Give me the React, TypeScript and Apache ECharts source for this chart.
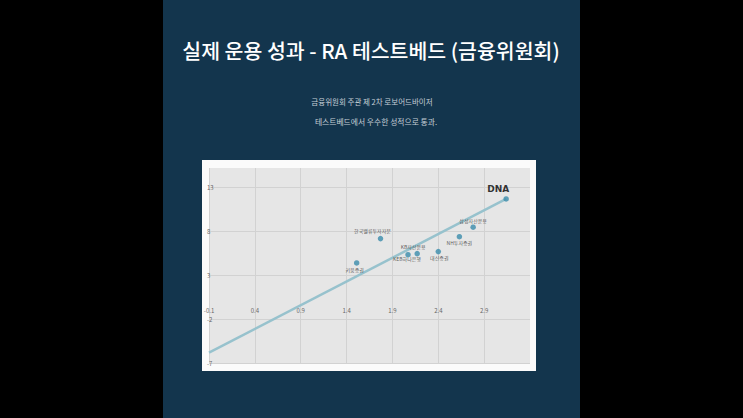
import React, { useEffect, useRef } from "react";
import * as echarts from "echarts";

const xTicks = [-0.1, 0.4, 0.9, 1.4, 1.9, 2.4, 2.9];
const yTicks = [-7, -2, 3, 8, 13];
const firms = ["키움증권", "한국밸류투자자문", "KEB하나은행", "KB자산운용", "대신증권", "NH투자증권", "삼성자산운용", "DNA"];
const xVals = [1.51, 1.77, 2.07, 2.17, 2.4, 2.63, 2.78, 3.14];
const yVals = [4.39, 7.16, 5.33, 5.45, 5.68, 7.38, 8.46, 11.68];
const trendX = [-0.1, 3.14];
const trendY = [-5.83, 11.68];

const titleText = "실제 운용 성과 - RA 테스트베드 (금융위원회)";
const subLines = ["금융위원회 주관 제 2차 로보어드바이저", "테스트베드에서 우수한 성적으로 통과."];

const FONT = "'Noto Sans CJK KR', 'Noto Sans', sans-serif";

const labelPlace: Record<string, any> = {
  "키움증권": { position: "bottom", distance: 1, offset: [-2, 0] },
  "한국밸류투자자문": { position: "top", distance: 3, offset: [-8, 0] },
  "KEB하나은행": { position: "bottom", distance: 0, offset: [-1, -1] },
  "KB자산운용": { position: "top", distance: 2, offset: [-4, 0] },
  "대신증권": { position: "bottom", distance: 1, offset: [1, 0] },
  "NH투자증권": { position: "bottom", distance: 1, offset: [0, 0] },
  "삼성자산운용": { position: "top", distance: 1, offset: [0, 0] },
  DNA: { position: "top", distance: 3, offset: [-8, 0] },
};

export default function App() {
  const ref = useRef<HTMLDivElement>(null);
  useEffect(() => {
    if (!ref.current) return;
    const chart = echarts.init(ref.current, undefined, { renderer: "svg" });
    const points = firms.map((name, i) => {
      const lp = labelPlace[name];
      const isDNA = name === "DNA";
      return {
        name,
        value: [xVals[i], yVals[i]],
        label: {
          show: true,
          formatter: name,
          position: lp.position,
          distance: lp.distance,
          offset: lp.offset,
          fontSize: isDNA ? 9 : 5,
          fontWeight: isDNA ? "bold" : "normal",
          color: isDNA ? "#000" : "#333",
          fontFamily: isDNA ? "'DejaVu Sans', sans-serif" : FONT,
        },
      };
    });
    chart.setOption({
      animation: false,
      backgroundColor: "#000",
      textStyle: { fontFamily: FONT },
      graphic: [
        { type: "rect", z: -10, shape: { x: 163, y: 0, width: 417, height: 418 }, style: { fill: "#13354d" } },
        { type: "rect", z: -9, shape: { x: 202, y: 160, width: 334, height: 211 }, style: { fill: "#fbfbfb" } },
        {
          type: "text", z: 5, x: 371, y: 50,
          style: { text: titleText, fill: "#ffffff", fontSize: 20.5, fontWeight: 500, fontFamily: FONT, textAlign: "center", textVerticalAlign: "middle" },
        },
        {
          type: "text", z: 5, x: 372, y: 101,
          style: { text: subLines[0], fill: "#c5ced6", fontSize: 7.5, fontFamily: FONT, textAlign: "center", textVerticalAlign: "middle" },
        },
        {
          type: "text", z: 5, x: 376, y: 121,
          style: { text: subLines[1], fill: "#c5ced6", fontSize: 7.8, fontFamily: FONT, textAlign: "center", textVerticalAlign: "middle" },
        },
      ],
      grid: {
        left: 209, right: 213, top: 168, bottom: 55,
        show: true, backgroundColor: "#e6e6e6", borderWidth: 0,
      },
      xAxis: {
        type: "value", min: -0.1, max: 3.4, offset: -58,
        axisLine: { show: false }, axisTick: { show: false, customValues: xTicks },
        axisLabel: { customValues: xTicks, margin: 2, fontSize: 6, lineHeight: 6, color: "#666", formatter: (v: number) => v.toFixed(1) },
        splitLine: { show: true, lineStyle: { color: "#d2d2d2", width: 1 } },
      },
      yAxis: {
        type: "value", min: -7, max: 15.2,
        axisLine: { show: false }, axisTick: { show: false, customValues: yTicks },
        axisLabel: { customValues: yTicks, inside: true, margin: -2, fontSize: 6, lineHeight: 6, color: "#666" },
        splitLine: { show: true, lineStyle: { color: "#d2d2d2", width: 1 } },
      },
      series: [
        {
          type: "line", data: trendX.map((x, i) => [x, trendY[i]]), symbol: "none", z: 2,
          lineStyle: { color: "#97c2cd", width: 2.5 },
        },
        {
          type: "scatter", data: points, symbolSize: 5.5, z: 3,
          itemStyle: { color: "#3b8cab" },
        },
      ],
    });
    return () => chart.dispose();
  }, []);
  return <div ref={ref} style={{ position: "fixed", left: 0, top: 0, width: 743, height: 418 }} />;
}
